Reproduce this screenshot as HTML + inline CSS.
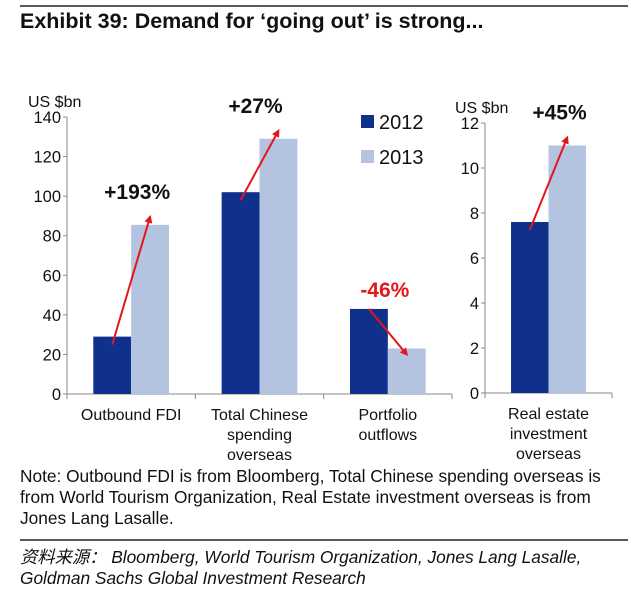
<!DOCTYPE html>
<html><head><meta charset="utf-8"><style>
body{margin:0;background:#fff;width:640px;height:593px;overflow:hidden;font-family:"Liberation Sans",Arial,sans-serif;}
svg{position:absolute;left:0;top:0}
</style></head><body>
<svg width="640" height="593" font-family="Liberation Sans, sans-serif">
<line x1="20" y1="6" x2="628" y2="6" stroke="#222" stroke-width="1.5"/>
<text x="20" y="28" font-size="21.5" font-weight="bold" fill="#111">Exhibit 39: Demand for ‘going out’ is strong...</text>
<g id="left"></g>
<g id="right"></g>
<g>
<rect x="361" y="115" width="13" height="13" fill="#0f318c"/>
<text x="379" y="129" font-size="20" fill="#111">2012</text>
<rect x="361" y="150" width="13" height="13" fill="#b4c3e0"/>
<text x="379" y="164" font-size="20" fill="#111">2013</text>
</g>
<g font-size="17.3" fill="#111">
<text x="20" y="482">Note: Outbound FDI is from Bloomberg, Total Chinese spending overseas is</text>
<text x="20" y="503">from World Tourism Organization, Real Estate investment overseas is from</text>
<text x="20" y="524">Jones Lang Lasalle.</text>
</g>
<line x1="20" y1="540" x2="628" y2="540" stroke="#222" stroke-width="1.5"/>
<g font-size="17.3" font-style="italic" fill="#111" font-family="Liberation Sans, Noto Sans CJK SC, sans-serif">
<text x="20" y="563">资料来源： Bloomberg, World Tourism Organization, Jones Lang Lasalle,</text>
<text x="20" y="584">Goldman Sachs Global Investment Research</text>
</g>
<defs><marker id="ah" markerWidth="8" markerHeight="8" refX="6" refY="4" orient="auto" markerUnits="userSpaceOnUse"><path d="M0,0 L8,4 L0,8 Z" fill="#e3161b"/></marker></defs>
</svg>
<script>
const categories=["Outbound FDI","Total Chinese|spending|overseas","Portfolio|outflows"];
const v2012=[29,102,43];
const v2013=[85.5,129,23];
const leftTicks=[0,20,40,60,80,100,120,140];
const labels=["+193%","+27%","-46%"];
const rCategory=["Real estate|investment|overseas"];
const r2012=[7.6];
const r2013=[11];
const rightTicks=[0,2,4,6,8,10,12];
const rLabels=["+45%"];
const NS="http://www.w3.org/2000/svg";
function mk(p,t,a){const e=document.createElementNS(NS,t);for(const k in a)e.setAttribute(k,a[k]);p.appendChild(e);return e;}
function chart(g,cats,a,b,ticks,labs,x0,x1,y0,y1,vmax,unitX,labOffsets){
  const y=v=>y0-(v/vmax)*(y0-y1);
  const n=cats.length,gw=(x1-x0)/n,bw=gw*0.295;
  let ax=mk(g,'line',{x1:x0,y1:y1,x2:x0,y2:y0,stroke:'#888'});
  
  let bx=mk(g,'line',{x1:x0,y1:y0,x2:x1,y2:y0,stroke:'#888'});
  
  let u=mk(g,'text',{x:unitX,y:y1-10,'font-size':16,fill:'#111'});u.textContent='US $bn';
  
  ticks.forEach(t=>{mk(g,'line',{x1:x0-4,x2:x0,y1:y(t),y2:y(t),stroke:'#888'});
    const tx=mk(g,'text',{x:x0-6,y:y(t)+6,'font-size':16.5,fill:'#111','text-anchor':'end'});tx.textContent=t;
    });
  for(let i=0;i<=n;i++)mk(g,'line',{x1:x0+i*gw,x2:x0+i*gw,y1:y0,y2:y0+5,stroke:'#888'});
  cats.forEach((c,i)=>{const cx=x0+gw*(i+0.5);
    const r1=mk(g,'rect',{x:cx-bw,y:y(a[i]),width:bw,height:y0-y(a[i]),fill:'#0f318c'});
    
    const r2=mk(g,'rect',{x:cx,y:y(b[i]),width:bw,height:y0-y(b[i]),fill:'#b4c3e0'});
    
    c.split('|').forEach((l,k)=>{const t=mk(g,'text',{x:cx,y:y0+26+k*20,'font-size':16,fill:'#111','text-anchor':'middle'});t.textContent=l;
      });
    const up=b[i]>=a[i];
    const sx=cx-bw*0.5, ex=cx+bw*0.5;
    const sy=up?y(a[i])+8:y(a[i]), ey=up?y(b[i])-8:y(b[i])+6;
    const ar=mk(g,'line',{x1:sx,y1:sy,x2:ex,y2:ey,stroke:'#e3161b','stroke-width':2,'marker-end':'url(#ah)'});
    
    const lt=mk(g,'text',{x:cx+(labOffsets[i]||0),y:up?y(b[i])-26:y(a[i])-12,'font-size':21,'font-weight':'bold',fill:up?'#111':'#e3161b','text-anchor':'middle'});
    lt.textContent=labs[i];
  });
}
chart(document.getElementById('left'),categories,v2012,v2013,leftTicks,labels,67,452,394,117,140,28,[6,-4,-3]);
chart(document.getElementById('right'),rCategory,r2012,r2013,rightTicks,rLabels,485,612,393,123,12,455,[11]);
</script>
</body></html>
